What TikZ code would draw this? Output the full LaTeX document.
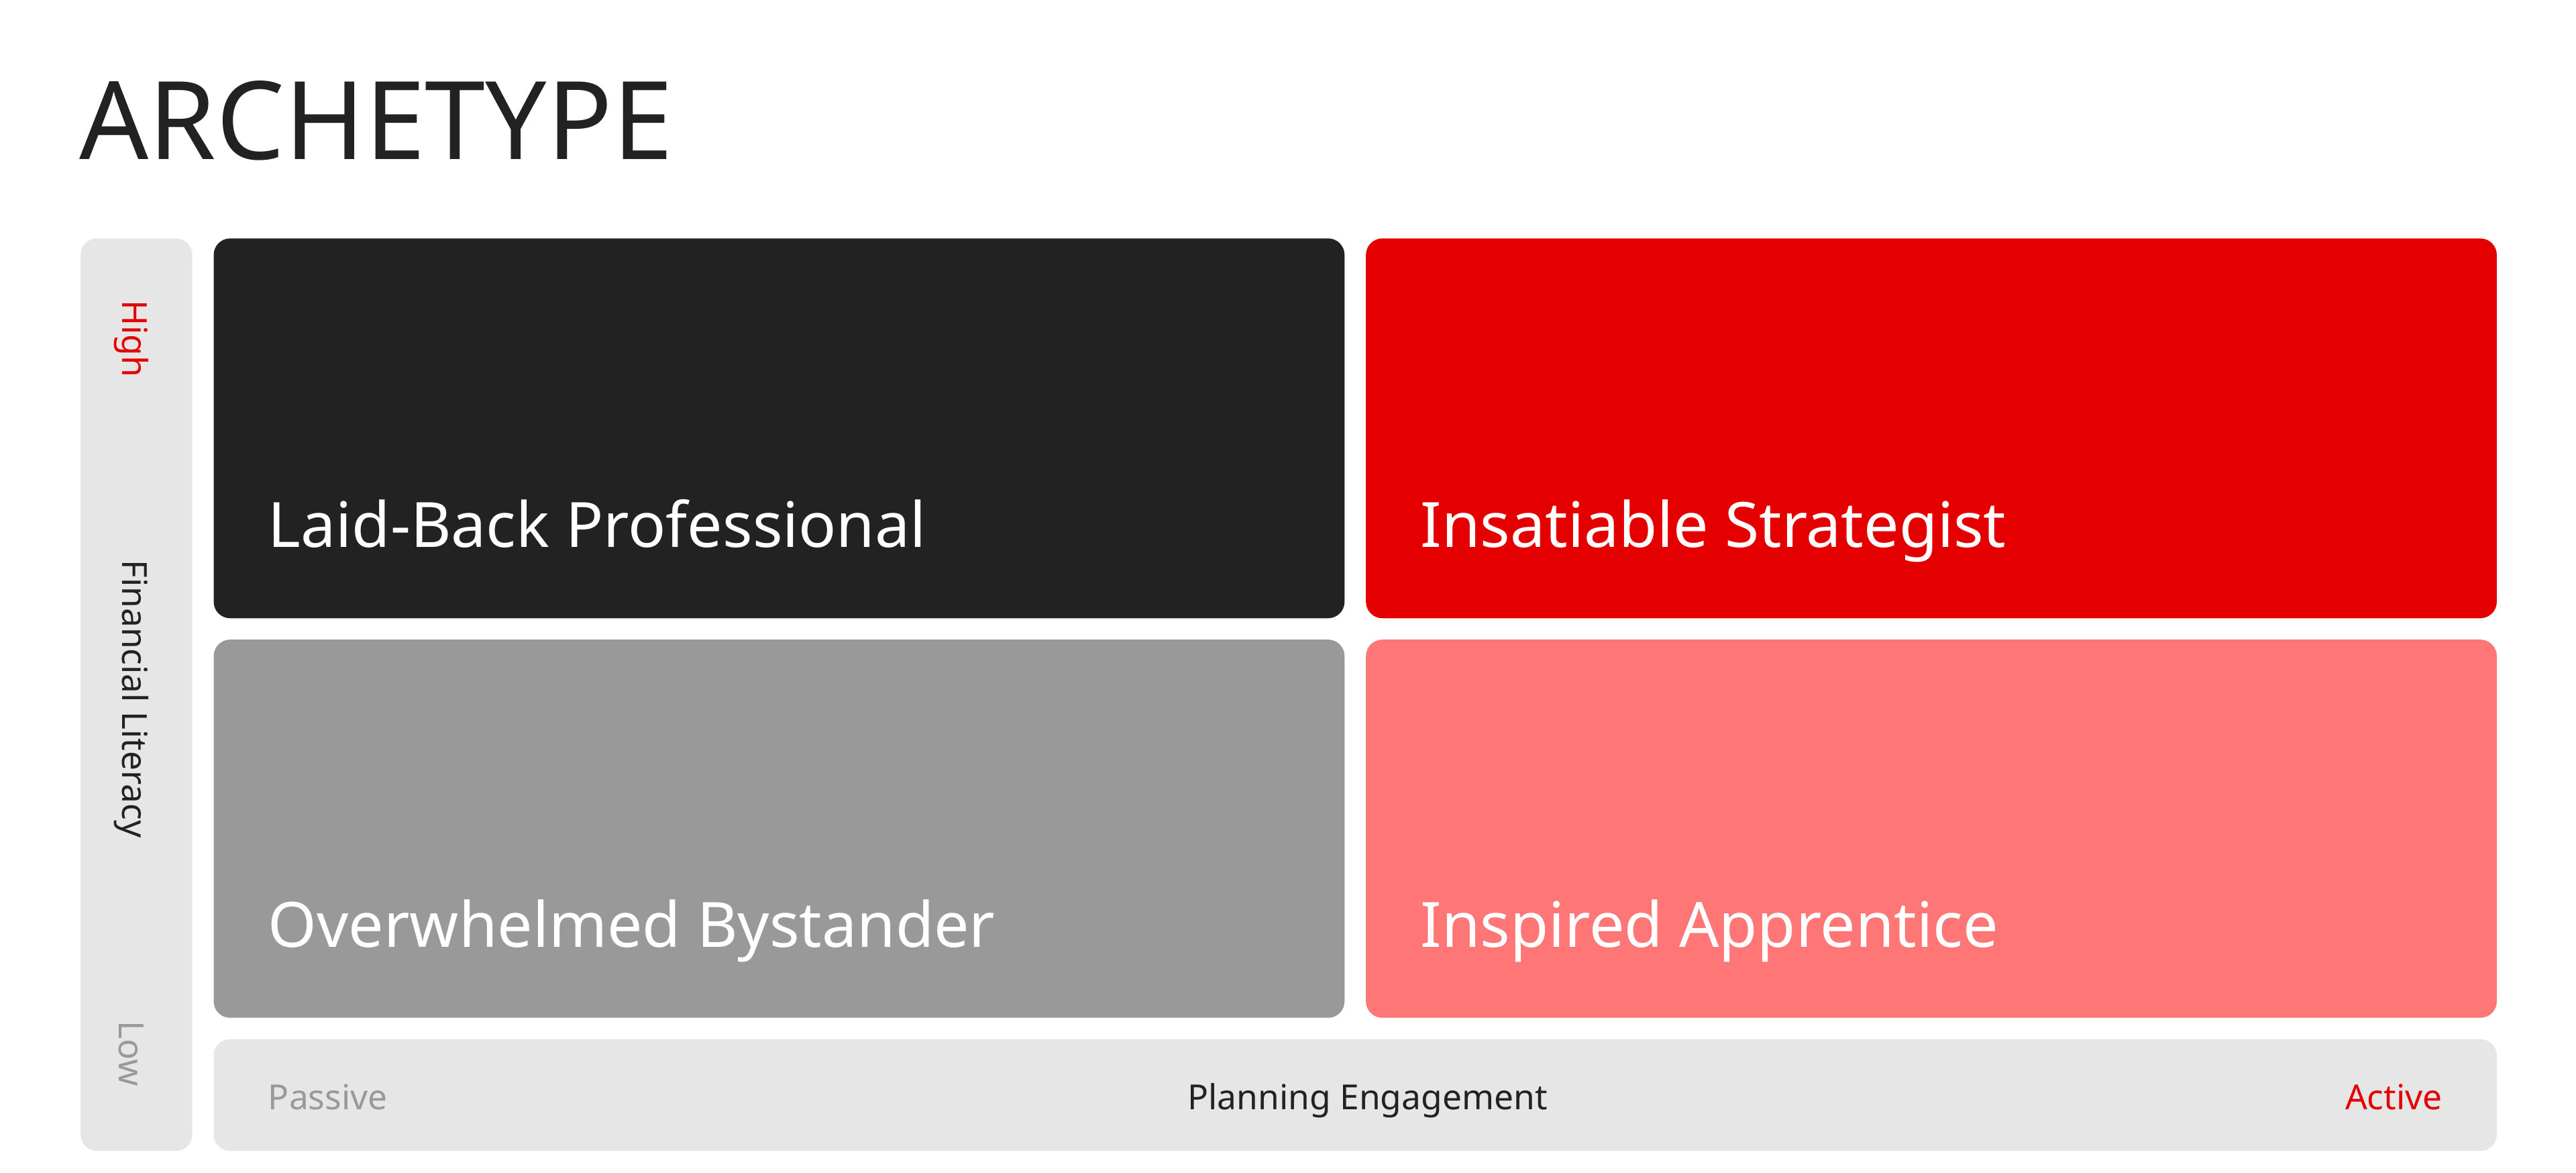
\documentclass[tikz,border=0pt]{standalone}
\usepackage{fontspec}
\setmainfont{Noto Sans}
\definecolor{dk}{HTML}{222222}
\definecolor{rd}{HTML}{E50000}
\definecolor{gy}{HTML}{999999}
\definecolor{pk}{HTML}{FF7676}
\definecolor{lg}{HTML}{E6E6E6}
\begin{document}
\begin{tikzpicture}[x=1pt,y=-1pt,
 box/.style={rounded corners=10pt,draw=none},
 big/.style={font=\fontsize{38}{40}\selectfont,text=white,anchor=base west,inner sep=0},
 small/.style={font=\fontsize{21}{24}\selectfont,inner sep=0}]
\useasboundingbox (0,0) rectangle (1567.2,713);
\node[anchor=base west,inner sep=0,font=\fontsize{66}{70}\selectfont,text=dk] (title) at (48,97) {ARCHETYPE};
\fill[box,lg] (49,145) rectangle (117,700);
\fill[box,lg] (130,632) rectangle (1519,700);
\fill[box,dk] (130,145) rectangle (818,376);
\fill[box,rd] (831,145) rectangle (1519,376);
\fill[box,gy] (130,389) rectangle (818,619);
\fill[box,pk] (831,389) rectangle (1519,619);
\node[big] (lb) at (163,333) {Laid-Back Professional};
\node[big] (is) at (864,333) {Insatiable Strategist};
\node[big] (ob) at (163,576) {Overwhelmed Bystander};
\node[big] (ia) at (864,576) {Inspired Apprentice};
\node[small,rotate=-90,text=rd] (hi) at (80,206) {High};
\node[small,rotate=-90,text=dk] (fl) at (80,425) {Financial Literacy};
\node[small,rotate=-90,text=gy] (lo) at (80,641) {Low};
\node[small,anchor=base west,text=gy] (pa) at (163,675) {Passive};
\node[small,anchor=base,text=dk] (pe) at (832,675) {Planning Engagement};
\node[small,anchor=base east,text=rd] (ac) at (1486,675) {Active};
\end{tikzpicture}
\end{document}
